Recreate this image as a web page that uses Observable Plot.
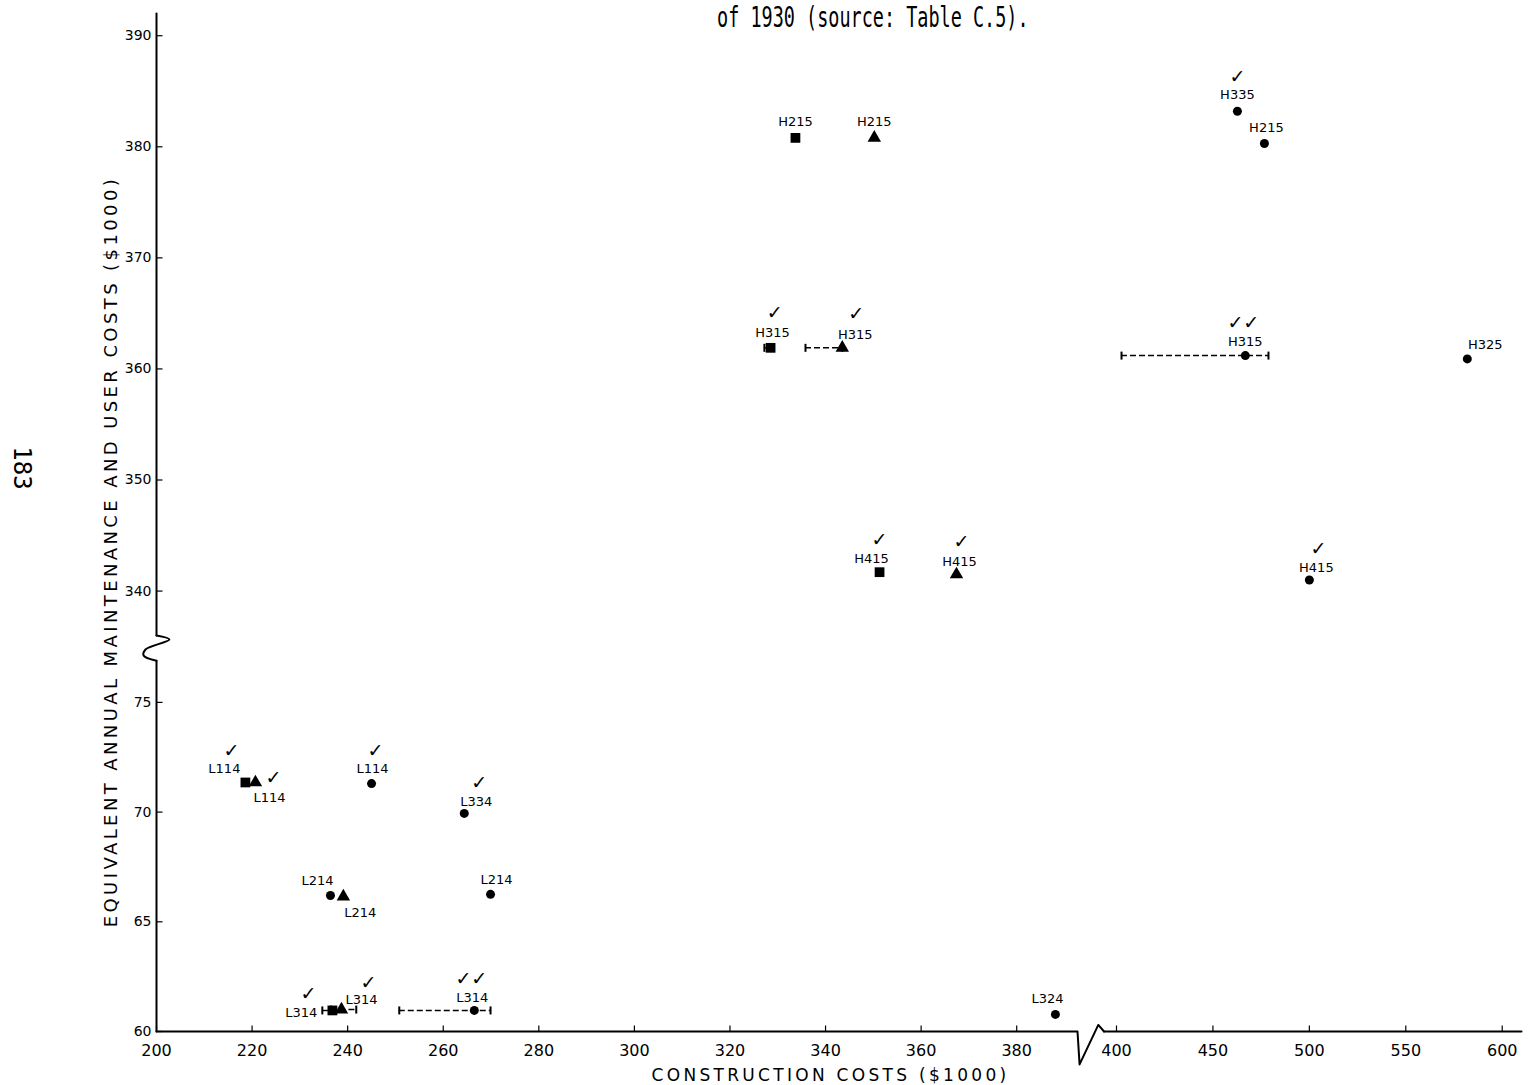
<!DOCTYPE html>
<html>
<head>
<meta charset="utf-8">
<script src="https://cdn.jsdelivr.net/npm/d3@7"></script>
<script src="https://cdn.jsdelivr.net/npm/@observablehq/plot@0.6"></script>
<style>
  body { margin: 0; background: #fff; }
  #wrap { position: relative; width: 1531px; height: 1085px; overflow: hidden; background: #fff; }
  #wrap svg { position: absolute; left: 0; top: 0; }
  #title { position: absolute; left: 717px; top: 3px; font-family: "DejaVu Sans Mono", monospace; font-size: 28px; line-height: 1.1; transform: scaleX(0.66); transform-origin: left top; white-space: nowrap; color: #000; }
  #page { position: absolute; left: 22px; top: 468px; font-family: "DejaVu Sans Mono", monospace; font-size: 24px; line-height: 1; transform: translate(-50%, -50%) rotate(90deg); color: #000; }
</style>
</head>
<body>
<div id="wrap"></div>
<script>
// ---- data ----
const labels = ["H215","H215","H335","H215","H315","H315","H315","H325","H415","H415","H415",
                "L114","L114","L114","L334","L214","L214","L214","L314","L314","L314","L324"];
const design = ["square","triangle","circle","circle","square","triangle","circle","circle","square","triangle","circle",
                "square","triangle","circle","circle","circle","triangle","circle","square","triangle","circle","circle"];
const construction = [333.7, 350.2, 462.7, 476.7, 328.5, 343.5, 466.8, 581.9, 351.3, 367.4, 500.0,
                      218.6, 220.7, 245.0, 264.4, 236.4, 239.1, 269.9, 236.8, 238.7, 266.5, 388.1];
const annualCost = [380.8, 380.8, 383.2, 380.3, 361.9, 361.9, 361.2, 360.9, 341.7, 341.5, 341.0,
                    71.35, 71.35, 71.3, 69.94, 66.2, 66.15, 66.25, 60.96, 61.0, 60.96, 60.78];
const checks = [0,0,1,0,1,1,2,0,1,1,1, 1,1,1,1,0,0,0,1,1,2,0];
const errLow  = [null,null,null,null,327.2,335.8,402.6,null,null,null,null,
                 null,null,null,null,null,null,null,234.7,236.5,250.8,null];
const errHigh = [null,null,null,null,328.5,343.5,478.8,null,null,null,null,
                 null,null,null,null,null,null,null,237.6,241.8,269.9,null];
const xTicks = [200,220,240,260,280,300,320,340,360,380,400,450,500,550,600];
const yTicks = [60,65,70,75,340,350,360,370,380,390];

// ---- layout (label placement relative to each point, in px) ----
const labelOffsets = [[0,-16],[0,-16],[0,-16],[2,-16],[2,-15],[13,-13],[0,-14],[18,-14],[-8,-13],[3,-13],[7,-12],
                      [-21,-14],[14,15],[1,-15],[12,-12],[-13,-15],[17,16],[6,-15],[-31,2],[20,-10],[-2,-13],[-8,-16]];
const checkOffsets = [[0,0],[0,0],[0,-34],[0,0],[4,-35],[14,-34],[-2,-33],[0,0],[0,-32],[5,-33],[9,-31],
                      [-14,-32],[18,-5],[4,-33],[15,-30],[0,0],[0,0],[0,0],[-24,-17],[27,-27],[-3,-32],[0,0]];

const points = labels.map((label, i) => ({
  label, design: design[i], x: construction[i], y: annualCost[i], checks: checks[i],
  lo: errLow[i], hi: errHigh[i], lo_dx: labelOffsets[i][0], lo_dy: labelOffsets[i][1],
  ck_dx: checkOffsets[i][0], ck_dy: checkOffsets[i][1]
}));
const bars = points.filter(p => p.lo != null);

// axis lines with breaks
const bottomAxisLeft = [[200,60],[392.5,60],[392.9,58.5],[396.5,60.3],[397.6,60]];
const bottomAxisRight = [[397.6,60],[610,60]];
const leftAxisLower = [[200,60],[200,76.9]];
const leftAxisBreak = [[200,76.9],[197.3,110.8],[197.7,178],[202.7,291],[200,336]];
const leftAxisUpper = [[200,336],[200,392]];

const tickUp = {draw(ctx) { ctx.moveTo(0, 0); ctx.lineTo(0, -6); }};
const tickRight = {draw(ctx) { ctx.moveTo(0, 0); ctx.lineTo(6, 0); }};
const cap = {draw(ctx) { ctx.moveTo(0, -4); ctx.lineTo(0, 4); }};

const font = "DejaVu Sans";
const yTitle = "EQUIVALENT ANNUAL MAINTENANCE AND USER COSTS ($1000)";
const xTitle = "CONSTRUCTION COSTS ($1000)";
const marks = [
  Plot.line(bottomAxisLeft, {x: d => d[0], y: d => d[1], stroke: "black", strokeWidth: 2}),
  Plot.line(bottomAxisRight, {x: d => d[0], y: d => d[1], stroke: "black", strokeWidth: 2}),
  Plot.line(leftAxisLower, {x: d => d[0], y: d => d[1], stroke: "black", strokeWidth: 2}),
  Plot.line(leftAxisBreak, {x: d => d[0], y: d => d[1], stroke: "black", strokeWidth: 2, curve: "catmull-rom"}),
  Plot.line(leftAxisUpper, {x: d => d[0], y: d => d[1], stroke: "black", strokeWidth: 2}),
  Plot.dot(xTicks, {x: d => d, y: 60, symbol: tickUp, stroke: "black", strokeWidth: 1.2, r: 3}),
  Plot.dot(yTicks, {x: 200, y: d => d, symbol: tickRight, stroke: "black", strokeWidth: 1.2, r: 3}),
  Plot.text(xTicks, {x: d => d, y: 60, dy: 19, text: d => String(d), fontSize: 16, fontFamily: font}),
  Plot.text(yTicks, {x: 200, y: d => d, dx: -5, text: d => String(d), textAnchor: "end", fontSize: 14, fontFamily: font}),
  // error bars
  Plot.ruleY(bars, {y: "y", x1: "lo", x2: "hi", stroke: "black", strokeWidth: 1.5, strokeDasharray: "6,3"}),
  Plot.dot(bars, {x: "lo", y: "y", symbol: cap, stroke: "black", strokeWidth: 2, r: 3}),
  Plot.dot(bars, {x: "hi", y: "y", symbol: cap, stroke: "black", strokeWidth: 2, r: 3}),
  // points
  Plot.dot(points.filter(p => p.design === "square"), {x: "x", y: "y", symbol: "square", r: 5.5, fill: "black"}),
  Plot.dot(points.filter(p => p.design === "triangle"), {x: "x", y: "y", symbol: "triangle", r: 5, fill: "black"}),
  Plot.dot(points.filter(p => p.design === "circle"), {x: "x", y: "y", symbol: "circle", r: 4.5, fill: "black"}),
  // labels and check marks
  ...points.map(p => Plot.text([p], {x: "x", y: "y", text: "label", dx: p.lo_dx, dy: p.lo_dy, fontSize: 13, fontFamily: font})),
  ...points.filter(p => p.checks > 0).map(p => Plot.text([p], {x: "x", y: "y", text: d => "✓".repeat(d.checks), dx: p.ck_dx, dy: p.ck_dy, fontSize: 19, fontFamily: font})),
  // axis titles
  Plot.text([yTitle], {frameAnchor: "top-left", dx: 104, dy: 551, rotate: -90, textAnchor: "middle", text: d => d, fontSize: 18, fontFamily: font}),
  Plot.text([xTitle], {frameAnchor: "top-left", dx: 830, dy: 1068, textAnchor: "middle", text: d => d, fontSize: 17, fontFamily: font})
];

const chart = Plot.plot({
  width: 1531,
  height: 1085,
  margin: 0,
  x: {type: "linear", domain: [200, 390, 400, 610], range: [156, 1064, 1116, 1521], axis: null},
  y: {type: "linear", domain: [60, 77, 336, 392], range: [1031, 658, 635, 13], axis: null},
  style: {background: "#fff", color: "black", fontFamily: font},
  marks
});

// widen the hand-lettered axis titles
d3.select(chart).selectAll("text")
  .filter(function() { return this.textContent === yTitle; })
  .style("letter-spacing", "3.4px");
d3.select(chart).selectAll("text")
  .filter(function() { return this.textContent === xTitle; })
  .style("letter-spacing", "3.3px");

const wrap = document.getElementById("wrap");
wrap.appendChild(chart);
const title = document.createElement("div");
title.id = "title";
title.textContent = "of 1930 (source: Table C.5).";
wrap.appendChild(title);
const page = document.createElement("div");
page.id = "page";
page.textContent = "183";
wrap.appendChild(page);
</script>
</body>
</html>
